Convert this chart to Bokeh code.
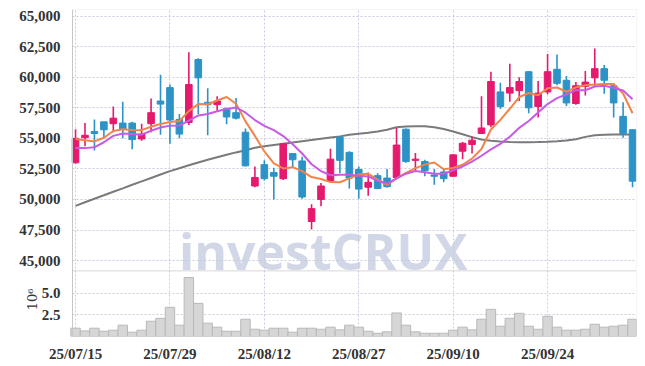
import math
import pandas as pd
from bokeh.plotting import figure
from bokeh.models import (Range1d, FixedTicker, ColumnDataSource, BoxAnnotation, Label)
from bokeh.core.properties import value
from bokeh.embed import file_html
from bokeh.resources import INLINE

# ---------------- data ----------------
tick_idx = [0, 10, 20, 30, 40, 50]
tick_labels = ["25/07/15", "25/07/29", "25/08/12", "25/08/27", "25/09/10", "25/09/24"]
price_ticks = [45000, 47500, 50000, 52500, 55000, 57500, 60000, 62500, 65000]
vol_ticks = [2.5, 5.0]   # in millions

opens = [53000, 55050, 55550, 56350, 56200, 56250, 56250, 54950, 56200, 58050,
         59150, 56550, 56300, 61450, 57950, 57750, 57450, 57100, 55500, 51100,
         52850, 52200, 51700, 53750, 53150, 48200, 50000, 51500, 55100, 53850,
         52450, 51000, 51950, 51750, 51800, 55750, 53200, 53100, 52000, 52250,
         51900, 53950, 54500, 55400, 56100, 58800, 58700, 58900, 60450, 57600,
         58800, 60650, 59750, 57850, 59250, 59950, 60700, 59300, 56800, 55700]
highs = [55750, 56250, 56550, 56350, 57600, 58000, 56350, 56200, 58250, 60200,
         59400, 57000, 62050, 61550, 59100, 58450, 57500, 58300, 55800, 52700,
         53200, 52600, 54600, 53800, 53500, 49600, 51350, 54150, 55150, 53950,
         52700, 52200, 52150, 52500, 55850, 55800, 53800, 53250, 52500, 52500,
         53700, 54700, 55150, 58450, 60450, 59550, 61100, 60000, 60500, 59700,
         61900, 61850, 60100, 59600, 60500, 62350, 61000, 59500, 57950, 55750]
lows = [52950, 54350, 54000, 55050, 55500, 55000, 54100, 54800, 55500, 55300,
        54550, 55000, 56100, 57000, 55250, 57250, 56150, 56550, 52700, 51000,
        51550, 50000, 51600, 52650, 50050, 47550, 49450, 51400, 52150, 50900,
        50050, 50300, 50900, 50950, 51700, 53000, 52350, 51900, 51200, 51400,
        51850, 53300, 53750, 55350, 55900, 57400, 58000, 58050, 57050, 56700,
        58600, 59350, 57650, 57750, 58500, 59200, 58650, 56700, 55050, 51000]
closes = [55000, 55250, 55400, 55700, 56650, 55750, 54900, 55350, 57100, 57800,
          56500, 55350, 59400, 59950, 57750, 58050, 56750, 56650, 52750, 51800,
          51700, 51900, 54550, 53250, 50200, 49250, 51100, 53300, 53200, 51750,
          50850, 51400, 50900, 51050, 54450, 53100, 53300, 52350, 51900, 51700,
          53650, 54600, 54850, 55850, 59650, 57600, 59150, 59650, 57500, 58700,
          60450, 59500, 57900, 59300, 59600, 60700, 59750, 57900, 55400, 51500]
volumes = [960000, 650000, 960000, 610000, 730000, 1310000, 500000, 730000, 1770000, 2110000,
           3380000, 1310000, 6840000, 3840000, 1540000, 1080000, 610000, 610000, 2000000, 840000,
           730000, 960000, 960000, 500000, 960000, 960000, 840000, 1080000, 770000, 1310000,
           1080000, 610000, 380000, 540000, 2730000, 1310000, 540000, 380000, 380000, 380000,
           730000, 1080000, 770000, 2000000, 3150000, 1190000, 2110000, 2690000, 1190000, 840000,
           2340000, 1080000, 730000, 730000, 840000, 1420000, 1080000, 1190000, 1310000, 2000000]
# moving-average values before enough in-window history exists
ma5_head = [54950, 54850, 54750, 55050]
ma10_head = [54200, 54200, 54270, 54680, 55200, 55400, 55350, 55300, 55620]
ma60 = [49480, 49770, 50060, 50340, 50630, 50910, 51200, 51480, 51760, 52040,
        52320, 52560, 52800, 53030, 53250, 53460, 53660, 53850, 54030, 54230,
        54360, 54460, 54560, 54660, 54760, 54860, 54960, 55060, 55160, 55300,
        55380, 55460, 55560, 55700, 55900, 55960, 55990, 55980, 55900, 55760,
        55560, 55330, 55100, 54900, 54800, 54740, 54710, 54690, 54690, 54700,
        54720, 54760, 54820, 54920, 55120, 55250, 55300, 55310, 55320, 55320]

RED = "#e5196d"
BLUE = "#2d93c6"

n = len(closes)
idx = list(range(n))
cs = pd.Series(closes, dtype=float)
ma5 = cs.rolling(5).mean().tolist()
ma5[:len(ma5_head)] = ma5_head
ma10 = cs.rolling(10).mean().tolist()
ma10[:len(ma10_head)] = ma10_head

src = ColumnDataSource(dict(
    x=idx, o=opens, h=highs, l=lows, c=closes,
    top=[max(a, b) for a, b in zip(opens, closes)],
    bot=[min(a, b) for a, b in zip(opens, closes)],
    col=[RED if c >= o else BLUE for o, c in zip(opens, closes)],
    vol=[v / 1e6 for v in volumes],
    ma5=ma5, ma10=ma10, ma60=ma60,
))

FONT = "Liberation Sans Narrow"
GRID = "#c9cce0"
BORDER = "#bbbbbb"

# one frame: price pane on top, volume pane (own y-range) at the bottom
Y0, Y1 = 38790, 65540          # price range over the whole frame
PANE_SPLIT = 44160             # price value at the pane separator
V1 = 37.9                      # volume range (millions) over the whole frame
XL, X0, X1 = -7.95, -0.32, 59.42   # frame left, plot-area left (axis), right
PX_PER_X = 636 / (X1 - XL)

def vol_pos(vm):
    return round(Y0 + vm * (Y1 - Y0) / V1, 3)

p = figure(width=638, height=364, x_range=Range1d(XL, X1), y_range=Range1d(Y0, Y1),
           output_backend="svg", toolbar_location=None,
           min_border_left=0, min_border_right=2, min_border_top=9, min_border_bottom=26)
p.extra_y_ranges = {"vol": Range1d(0, V1)}
p.outline_line_color = None

# axes / grid
p.xaxis.ticker = FixedTicker(ticks=tick_idx)
p.xaxis.major_label_overrides = {i: s for i, s in zip(tick_idx, tick_labels)}
p.xaxis.axis_line_color = None
vt = [vol_pos(t) for t in vol_ticks]
p.yaxis.ticker = FixedTicker(ticks=vt + price_ticks)
overrides = {pos: f"{t:.1f}" for pos, t in zip(vt, vol_ticks)}
overrides.update({t: f"{t:,}" for t in price_ticks})
p.yaxis.major_label_overrides = overrides
p.yaxis.fixed_location = X0
p.yaxis.axis_line_color = "#cccccc"
for g in (p.xgrid, p.ygrid):
    g.grid_line_color = GRID
    g.grid_line_dash = "2 2"
p.ygrid.cross_bounds = (X0, X1)
for ax in (p.xaxis, p.yaxis):
    ax.major_tick_line_color = None
    ax.minor_tick_line_color = None
    ax.major_label_text_font = FONT
    ax.major_label_text_font_size = "15px"
    ax.major_label_text_font_style = "bold"
    ax.major_label_text_color = "#333333"
p.xaxis.major_label_standoff = 3
p.yaxis.major_label_standoff = 6

# pane borders
p.add_layout(BoxAnnotation(left=X0, right=X1, bottom=PANE_SPLIT, top=Y1,
                           fill_color=None, fill_alpha=0, line_color=BORDER, line_width=1))
p.add_layout(BoxAnnotation(left=X0, right=X1, bottom=Y0, top=PANE_SPLIT,
                           fill_color=None, fill_alpha=0, line_color=BORDER, line_width=1))

# exponent of the volume scale
p.add_layout(Label(x=X0 - 40 / PX_PER_X, y=4.3, y_range_name="vol", text="10\u2076",
                   angle=math.pi / 2, text_align="center", text_baseline="middle",
                   text_font="DejaVu Serif", text_font_size="13px", text_color="#333333"))

# watermark
p.text(x=[10.95], y=[45790], text=["investCRUX"], text_font=value("Open Sans"),
       text_font_style="bold", text_font_size=value("50px"), text_color="#c3c9df",
       text_alpha=0.75, text_baseline="alphabetic", text_align="left")

# volume
p.vbar(x="x", top="vol", width=1.0, source=src, y_range_name="vol",
       fill_color="#d6d6d6", line_color="#b9b9b9", line_width=1)

# price
p.line("x", "ma60", source=src, line_color="#7a7a7a", line_width=2)
p.segment(x0="x", y0="l", x1="x", y1="h", source=src, line_color="col", line_width=1.6)
p.vbar(x="x", top="top", bottom="bot", width=0.7, source=src,
       fill_color="col", line_color="col", line_width=1)
p.line("x", "ma5", source=src, line_color="#f0844a", line_width=2)
p.line("x", "ma10", source=src, line_color="#c85ae6", line_width=2)

open("out.html", "w").write(file_html(p, INLINE))
